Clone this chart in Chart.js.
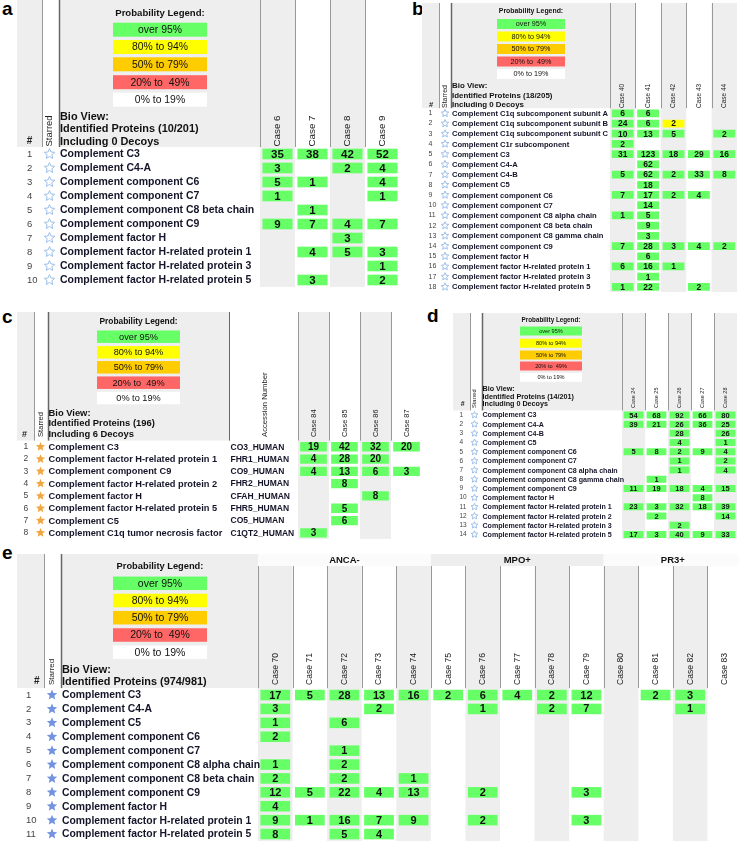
<!DOCTYPE html>
<html>
<head>
<meta charset="utf-8">
<script src="https://cdn.jsdelivr.net/npm/chart.js@4.4.1/dist/chart.umd.min.js"></script>
<style>
  body { margin: 0; background: #fff; width: 738px; height: 842px; position: relative; overflow: hidden; }
  canvas { position: absolute; }
  .tag { position: absolute; font: bold 19px "Liberation Sans", Arial, sans-serif; line-height: 19px; color: #000; }
</style>
</head>
<body>
<div class="tag" style="left:2px;top:-1px">a</div>
<div class="tag" style="left:412px;top:-1px">b</div>
<div class="tag" style="left:2px;top:307px">c</div>
<div class="tag" style="left:427px;top:306px">d</div>
<div class="tag" style="left:2px;top:543px">e</div>
<script>
// ---- data ----
const legendLabels = ['over 95%', '80% to 94%', '50% to 79%', '20% to  49%', '0% to 19%'];

const aProteins = ['Complement C3', 'Complement C4-A', 'Complement component C6', 'Complement component C7',
  'Complement component C8 beta chain', 'Complement component C9', 'Complement factor H',
  'Complement factor H-related protein 1', 'Complement factor H-related protein 3', 'Complement factor H-related protein 5'];
const aCases = ['Case 6', 'Case 7', 'Case 8', 'Case 9'];
const aCounts = [
  [35, 38, 42, 52], [3, null, 2, 4], [5, 1, null, 4], [1, null, null, 1], [null, 1, null, null],
  [9, 7, 4, 7], [null, null, 3, null], [null, 4, 5, 3], [null, null, null, 1], [null, 3, null, 2]
];
const aBioView = ['Bio View:', 'Identified Proteins (10/201)', 'Including 0 Decoys'];

const bProteins = ['Complement C1q subcomponent subunit A', 'Complement C1q subcomponent subunit B',
  'Complement C1q subcomponent subunit C', 'Complement C1r subcomponent', 'Complement C3', 'Complement C4-A',
  'Complement C4-B', 'Complement C5', 'Complement component C6', 'Complement component C7',
  'Complement component C8 alpha chain', 'Complement component C8 beta chain', 'Complement component C8 gamma chain',
  'Complement component C9', 'Complement factor H', 'Complement factor H-related protein 1',
  'Complement factor H-related protein 3', 'Complement factor H-related protein 5'];
const bCases = ['Case 40', 'Case 41', 'Case 42', 'Case 43', 'Case 44'];
const bCounts = [
  [6, 6, null, null, null], [24, 6, 2, null, null], [10, 13, 5, null, 2], [2, null, null, null, null],
  [31, 123, 18, 29, 16], [null, 62, null, null, null], [5, 62, 2, 33, 8], [null, 18, null, null, null],
  [7, 17, 2, 4, null], [null, 14, null, null, null], [1, 5, null, null, null], [null, 9, null, null, null],
  [null, 3, null, null, null], [7, 28, 3, 4, 2], [null, 6, null, null, null], [6, 16, 1, null, null],
  [null, 1, null, null, null], [1, 22, null, 2, null]
];
const bYellowCells = [[1, 2]]; // [row, case] with 80% to 94% probability
const bBioView = ['Bio View:', 'Identified Proteins (18/205)', 'Including 0 Decoys'];

const cProteins = ['Complement C3', 'Complement factor H-related protein 1', 'Complement component C9',
  'Complement factor H-related protein 2', 'Complement factor H', 'Complement factor H-related protein 5',
  'Complement C5', 'Complement C1q tumor necrosis factor'];
const cAccessions = ['CO3_HUMAN', 'FHR1_HUMAN', 'CO9_HUMAN', 'FHR2_HUMAN', 'CFAH_HUMAN', 'FHR5_HUMAN', 'CO5_HUMAN', 'C1QT2_HUMAN'];
const cCases = ['Case 84', 'Case 85', 'Case 86', 'Case 87'];
const cCounts = [
  [19, 42, 32, 20], [4, 28, 20, null], [4, 13, 6, 3], [null, 8, null, null],
  [null, null, 8, null], [null, 5, null, null], [null, 6, null, null], [3, null, null, null]
];
const cBioView = ['Bio View:', 'Identified Proteins (196)', 'Including 6 Decoys'];

const dProteins = ['Complement C3', 'Complement C4-A', 'Complement C4-B', 'Complement C5', 'Complement component C6',
  'Complement component C7', 'Complement component C8 alpha chain', 'Complement component C8 gamma chain',
  'Complement component C9', 'Complement factor H', 'Complement factor H-related protein 1',
  'Complement factor H-related protein 2', 'Complement factor H-related protein 3', 'Complement factor H-related protein 5'];
const dCases = ['Case 24', 'Case 25', 'Case 26', 'Case 27', 'Case 28'];
const dCounts = [
  [54, 68, 92, 66, 80], [39, 21, 26, 36, 25], [null, null, 28, null, 26], [null, null, 4, null, 1],
  [5, 8, 2, 9, 4], [null, null, 1, null, 2], [null, null, 1, null, 4], [null, 1, null, null, null],
  [11, 19, 18, 4, 15], [null, null, null, 8, null], [23, 3, 32, 18, 39], [null, 2, null, null, 14],
  [null, null, 2, null, null], [17, 3, 40, 9, 33]
];
const dBioView = ['Bio View:', 'Identified Proteins (14/201)', 'Including 0 Decoys'];

const eProteins = ['Complement C3', 'Complement C4-A', 'Complement C5', 'Complement component C6',
  'Complement component C7', 'Complement component C8 alpha chain', 'Complement component C8 beta chain',
  'Complement component C9', 'Complement factor H', 'Complement factor H-related protein 1',
  'Complement factor H-related protein 5'];
const eCases = ['Case 70', 'Case 71', 'Case 72', 'Case 73', 'Case 74', 'Case 75', 'Case 76',
  'Case 77', 'Case 78', 'Case 79', 'Case 80', 'Case 81', 'Case 82', 'Case 83'];
const eCounts = [
  [17, 5, 28, 13, 16, 2, 6, 4, 2, 12, null, 2, 3, null],
  [3, null, null, 2, null, null, 1, null, 2, 7, null, null, 1, null],
  [1, null, 6, null, null, null, null, null, null, null, null, null, null, null],
  [2, null, null, null, null, null, null, null, null, null, null, null, null, null],
  [null, null, 1, null, null, null, null, null, null, null, null, null, null, null],
  [1, null, 2, null, null, null, null, null, null, null, null, null, null, null],
  [2, null, 2, null, 1, null, null, null, null, null, null, null, null, null],
  [12, 5, 22, 4, 13, null, 2, null, null, 3, null, null, null, null],
  [4, null, null, null, null, null, null, null, null, null, null, null, null, null],
  [9, 1, 16, 7, 9, null, 2, null, null, 3, null, null, null, null],
  [8, null, 5, 4, null, null, null, null, null, null, null, null, null, null]
];
const eGroups = ['ANCA-', 'MPO+', 'PR3+'];
const eGroupSizes = [5, 5, 4];
const eBioView = ['Bio View:', 'Identified Proteins (974/981)'];

// ---- styles ----
const FONT = '"Liberation Sans", Arial, sans-serif';
const GREEN = '#66ff66', YELLOW = '#ffff00', GRAY = '#eeeeee';
const legendColors = ['#66ff66', '#ffff00', '#ffcc00', '#ff6666', '#ffffff'];

function drawStar(ctx, cx, cy, r, fill, stroke) {
  ctx.beginPath();
  for (let k = 0; k < 10; k++) {
    const rr = k % 2 ? r * 0.45 : r;
    const ang = -Math.PI / 2 + k * Math.PI / 5;
    ctx.lineTo(cx + rr * Math.cos(ang), cy + rr * Math.sin(ang));
  }
  ctx.closePath();
  if (fill) { ctx.fillStyle = fill; ctx.fill(); }
  if (stroke) { ctx.strokeStyle = stroke; ctx.lineWidth = 1; ctx.stroke(); }
}

function tablePlugin(p) {
  const L = p.layout;
  const px = v => v - L.left, py = v => v - L.top;
  return {
    id: 'table',
    beforeDatasetsDraw(chart) {
      const ctx = chart.ctx, xs = chart.scales.x, area = chart.chartArea;
      ctx.save();
      ctx.fillStyle = GRAY;
      // header backgrounds
      ctx.fillRect(px(L.left), py(L.headTop), L.numEnd - L.left, area.top - py(L.headTop));
      ctx.fillRect(px(L.starEnd), py(L.headTop), (L.accLeft || L.casesLeft) - L.starEnd, area.top - py(L.headTop));
      // alternating case columns
      const colTop = L.colTop || L.headTop;
      p.cases.forEach((c, j) => {
        if (j % 2) return;
        const x0 = xs.getPixelForValue(j - 0.5), x1 = xs.getPixelForValue(j + 0.5);
        ctx.fillRect(x0, py(colTop), x1 - x0, area.bottom - py(colTop));
      });
      // group header band
      if (p.groups) {
        let start = 0;
        p.groups.forEach((g, k) => {
          const x0 = xs.getPixelForValue(start - 0.5), x1 = xs.getPixelForValue(start + p.groupSizes[k] - 0.5);
          ctx.fillStyle = k === 1 ? GRAY : '#fbfbfb';
          ctx.fillRect(x0, py(L.headTop), x1 - x0, L.colTop - L.headTop);
          ctx.fillStyle = '#111';
          ctx.font = 'bold ' + L.f.group + 'px ' + FONT;
          ctx.textAlign = 'center';
          ctx.textBaseline = 'middle';
          ctx.fillText(g, (x0 + x1) / 2, py(L.groupY));
          start += p.groupSizes[k];
        });
      }
      // header rule lines
      ctx.strokeStyle = '#999';
      ctx.lineWidth = 1;
      const vline = (x, y0) => {
        ctx.beginPath();
        ctx.moveTo(Math.round(x) + 0.5, y0);
        ctx.lineTo(Math.round(x) + 0.5, area.top);
        ctx.stroke();
      };
      vline(px(L.numEnd), py(L.headTop));
      for (let j = 0; j <= p.cases.length; j++) vline(xs.getPixelForValue(j - 0.5), py(colTop));
      ctx.strokeStyle = '#666';
      if (L.accLeft) vline(px(L.accLeft), py(L.headTop));
      ctx.lineWidth = 1.5;
      vline(px(L.starEnd), py(L.headTop));
      ctx.restore();
    },
    afterDatasetsDraw(chart) {
      const ctx = chart.ctx, xs = chart.scales.x, ys = chart.scales.y, area = chart.chartArea;
      ctx.save();
      ctx.textBaseline = 'middle';
      // cell counts
      ctx.fillStyle = '#111';
      ctx.textAlign = 'center';
      ctx.font = 'bold ' + L.f.val + 'px ' + FONT;
      p.cases.forEach((c, j) => {
        chart.getDatasetMeta(j).data.forEach((el, i) => {
          const v = p.counts[i][j];
          if (v == null) return;
          const pt = el.getCenterPoint();
          ctx.fillText(String(v), pt.x, pt.y + 0.5);
        });
      });
      // row labels
      p.proteins.forEach((name, i) => {
        const y = ys.getPixelForValue(i);
        ctx.textAlign = 'left';
        ctx.fillStyle = '#444';
        ctx.font = L.f.num + 'px ' + FONT;
        ctx.fillText(String(i + 1), px(L.numX), y);
        if (L.starFill) drawStar(ctx, px(L.starX), y, L.starR, L.starFill, null);
        else drawStar(ctx, px(L.starX), y, L.starR, null, '#9dbfea');
        ctx.fillStyle = '#15152a';
        ctx.font = 'bold ' + L.f.name + 'px ' + FONT;
        ctx.fillText(name, px(L.nameX), y + 0.5);
        if (p.accessions) {
          ctx.font = 'bold ' + L.f.acc + 'px ' + FONT;
          ctx.fillText(p.accessions[i], px(L.accLeft + 1.5), y + 0.5);
        }
      });
      // rotated column titles
      const rot = (text, x, bottom, font) => {
        ctx.save();
        ctx.translate(x, bottom);
        ctx.rotate(-Math.PI / 2);
        ctx.font = font;
        ctx.textAlign = 'left';
        ctx.fillText(text, 0, 0);
        ctx.restore();
      };
      ctx.fillStyle = '#222';
      p.cases.forEach((c, j) => rot(c, xs.getPixelForValue(j), py(L.caseBottom), L.f.cas + 'px ' + FONT));
      rot('Starred', px(L.starX), py(L.caseBottom), L.f.star + 'px ' + FONT);
      if (p.accessions) rot('Accession Number', px(L.accCx), py(L.caseBottom), L.f.accTitle + 'px ' + FONT);
      ctx.textAlign = 'center';
      ctx.font = 'bold ' + L.f.hash + 'px ' + FONT;
      ctx.fillText('#', px(L.hashX), py(L.hashY));
      // bio view text
      ctx.textAlign = 'left';
      ctx.fillStyle = '#111';
      ctx.font = 'bold ' + L.f.bio + 'px ' + FONT;
      p.bio.forEach((t, k) => ctx.fillText(t, px(L.nameX), py(L.bioY[k])));
      // probability legend
      const cx = (L.legX0 + L.legX1) / 2;
      ctx.textAlign = 'center';
      ctx.font = 'bold ' + L.f.legTitle + 'px ' + FONT;
      ctx.fillText('Probability Legend:', px(cx), py(L.legTitleY));
      ctx.font = L.f.legText + 'px ' + FONT;
      legendLabels.forEach((t, k) => {
        ctx.fillStyle = legendColors[k];
        ctx.fillRect(px(L.legX0), py(L.legY[k] - L.legH / 2), L.legX1 - L.legX0, L.legH);
        ctx.fillStyle = '#111';
        ctx.fillText(t, px(cx), py(L.legY[k]) + 0.5);
      });
      ctx.restore();
    }
  };
}

function makePanel(p) {
  const L = p.layout;
  const n = p.cases.length;
  const width = Math.round(L.casesLeft + n * L.colW - L.left);
  const bodyTop = L.headBottom - L.top;
  const height = Math.ceil(bodyTop + p.proteins.length * L.rowH + 2);
  const canvas = document.createElement('canvas');
  canvas.width = width;
  canvas.height = height;
  canvas.style.left = L.left + 'px';
  canvas.style.top = L.top + 'px';
  canvas.style.width = width + 'px';
  canvas.style.height = height + 'px';
  document.body.appendChild(canvas);

  const isYellow = (i, j) => (p.yellow || []).some(c => c[0] === i && c[1] === j);
  const datasets = p.cases.map((c, j) => ({
    label: c,
    data: p.counts.map(r => (r[j] == null ? null : [j - 0.43, j + 0.43])),
    backgroundColor: p.counts.map((r, i) => (isYellow(i, j) ? YELLOW : GREEN)),
    borderWidth: 0,
    grouped: false,
    categoryPercentage: 1,
    barPercentage: 0.76
  }));

  new Chart(canvas, {
    type: 'bar',
    data: { labels: p.proteins, datasets },
    options: {
      indexAxis: 'y',
      responsive: false,
      maintainAspectRatio: false,
      devicePixelRatio: 1,
      animation: false,
      events: [],
      layout: { padding: { left: L.casesLeft - L.left, top: bodyTop, right: 0, bottom: 2 } },
      plugins: { legend: { display: false }, tooltip: { enabled: false } },
      scales: {
        x: { type: 'linear', min: -0.5, max: n - 0.5, display: false },
        y: { type: 'category', display: false, offset: true }
      }
    },
    plugins: [tablePlugin(p)]
  });
}

makePanel({
  proteins: aProteins, cases: aCases, counts: aCounts, bio: aBioView,
  layout: {
    left: 17, top: 0, headTop: 0, headBottom: 147, rowH: 14, numEnd: 42, starEnd: 59, casesLeft: 260, colW: 35,
    hashX: 29.5, hashY: 141.5, numX: 27, starX: 49.5, starR: 5.5, nameX: 60, caseBottom: 146.5,
    legX0: 113, legX1: 207, legTitleY: 13.3, legY: [29.7, 47, 64.3, 82.2, 99.7], legH: 14,
    bioY: [117, 129, 141.5],
    f: { name: 10.5, val: 11.5, num: 9.5, bio: 10.9, legTitle: 9.6, legText: 10.4, cas: 9.8, star: 9.5, hash: 10 }
  }
});

makePanel({
  proteins: bProteins, cases: bCases, counts: bCounts, bio: bBioView, yellow: bYellowCells,
  layout: {
    left: 422, top: 0, headTop: 3, headBottom: 108.2, rowH: 10.16, numEnd: 439, starEnd: 451, casesLeft: 610, colW: 25.4,
    hashX: 431, hashY: 105, numX: 428.5, starX: 445, starR: 4, nameX: 452, caseBottom: 108,
    legX0: 497, legX1: 565, legTitleY: 11, legY: [24, 36.5, 49, 61.5, 74], legH: 10,
    bioY: [86, 95.5, 105],
    f: { name: 7.6, val: 8.5, num: 7, bio: 7.9, legTitle: 6.9, legText: 7.2, cas: 6.5, star: 7, hash: 7.5 }
  }
});

makePanel({
  proteins: cProteins, cases: cCases, counts: cCounts, bio: cBioView, accessions: cAccessions,
  layout: {
    left: 17, top: 300, headTop: 312, headBottom: 440.6, rowH: 12.23, numEnd: 34, starEnd: 48, accLeft: 229, accCx: 265,
    casesLeft: 298, colW: 31,
    hashX: 24.5, hashY: 434.3, numX: 23.5, starX: 40.5, starR: 4.8, nameX: 48.5, caseBottom: 437,
    legX0: 97, legX1: 180, legTitleY: 321.7, legY: [336.7, 352.3, 367.3, 382.7, 398], legH: 12.5,
    bioY: [413.3, 423.3, 434.3],
    f: { name: 9.25, val: 10, num: 8.5, bio: 9.4, legTitle: 8.4, legText: 9.2, cas: 7.4, star: 7.6, hash: 9, acc: 8.5, accTitle: 7.7 },
    starFill: '#f2a640'
  }
});

makePanel({
  proteins: dProteins, cases: dCases, counts: dCounts, bio: dBioView,
  layout: {
    left: 453, top: 300, headTop: 313, headBottom: 410.4, rowH: 9.15, numEnd: 470, starEnd: 482, casesLeft: 622, colW: 23,
    hashX: 462.7, hashY: 404.3, numX: 459.5, starX: 474.5, starR: 3.6, nameX: 482.5, caseBottom: 408,
    legX0: 520, legX1: 582, legTitleY: 320, legY: [331, 343.3, 355, 366, 377.3], legH: 9,
    bioY: [389.3, 396.7, 404.3],
    f: { name: 7.1, val: 7.5, num: 6.5, bio: 7.2, legTitle: 6.3, legText: 5.6, cas: 5.5, star: 5.7, hash: 7 }
  }
});

makePanel({
  proteins: eProteins, cases: eCases, counts: eCounts, bio: eBioView, groups: eGroups, groupSizes: eGroupSizes,
  layout: {
    left: 17, top: 545, headTop: 554, colTop: 566, groupY: 560, headBottom: 688.1, rowH: 13.83, numEnd: 44, starEnd: 61,
    casesLeft: 258, colW: 34.6,
    hashX: 36.7, hashY: 681.7, numX: 26, starX: 52, starR: 5.5, nameX: 62, caseBottom: 685,
    legX0: 113, legX1: 207, legTitleY: 566.7, legY: [583.3, 600.5, 617.7, 635, 652.3], legH: 13.5,
    bioY: [670, 681.5],
    f: { name: 10.4, val: 11, num: 9.5, bio: 10.9, legTitle: 9.3, legText: 10.5, cas: 8.6, star: 8, hash: 10, group: 9.5 },
    starFill: '#7393e0'
  }
});
</script>
</body>
</html>
